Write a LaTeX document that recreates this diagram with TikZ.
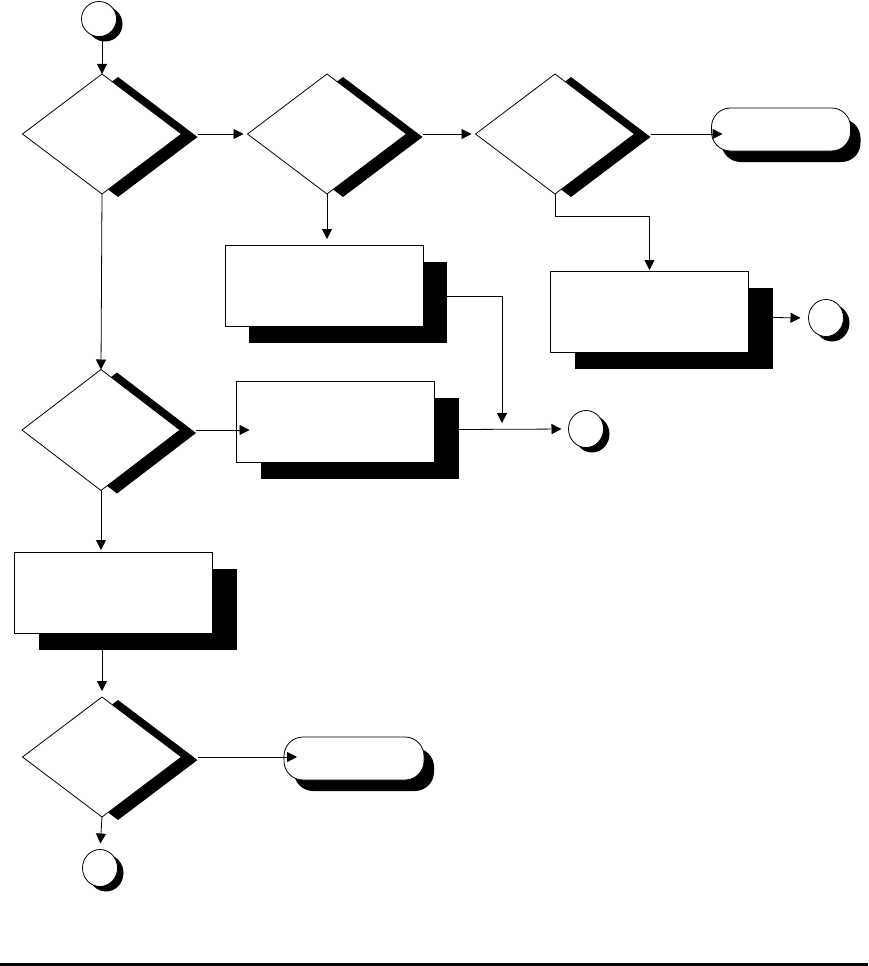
\documentclass[tikz,border=0pt]{standalone}
\usetikzlibrary{shapes.geometric,shadows,arrows.meta}
\begin{document}
\begin{tikzpicture}[x=1pt, y=-1pt, line width=0.8pt, >={Triangle[length=10pt,width=10pt]}]
  \tikzstyle{every node}=[draw, fill=white, inner sep=0pt, outer sep=0pt]
  \tikzstyle{test}=[diamond, minimum width=159pt, minimum height=120pt,
                    drop shadow={shadow xshift=16pt, shadow yshift=-3pt, opacity=1, fill=black}]
  \tikzstyle{task}=[rectangle, minimum width=198pt, minimum height=81pt,
                    drop shadow={shadow xshift=24pt, shadow yshift=-17pt, opacity=1, fill=black}]
  \tikzstyle{term}=[rectangle, rounded corners=19pt, minimum width=139pt, minimum height=43pt,
                    drop shadow={shadow xshift=10pt, shadow yshift=-11pt, opacity=1, fill=black}]
  \tikzstyle{conn}=[ellipse, minimum width=35pt, minimum height=37pt,
                    drop shadow={shadow xshift=6pt, shadow yshift=-5pt, opacity=1, fill=black}]
  \useasboundingbox (0,0) rectangle (868,966);
% \tikzstyle{every node}=[circle,draw]
  \node[conn, minimum height=35pt] (start) at (99,19) {};
  \node[test] (q1) at (102,134) {};
  \node[test] (q2) at (327,134) {};
  \node[test] (q3) at (555,134) {};
  \node[term] (stop1) at (781,129.5) {};
  \node[task] (job2) at (324,285.5) {};
  \node[task] (job3) at (649.5,311.5) {};
  \node[conn] (out3) at (826,318) {};
  \node[test, minimum width=158pt, minimum height=121pt] (q4) at (101,430) {};
  \node[task] (job4) at (335.5,421.5) {};
  \node[conn] (out4) at (586,429) {};
  \node[task] (job5) at (113.5,592.5) {};
  \node[test] (q5) at (102,757) {};
  \node[term, minimum width=140pt] (stop2) at (354,758.5) {};
  \node[conn] (out5) at (100,868) {};
  \coordinate (join) at (502,429);

  \draw[->] (start.south -| q1.north) -- (q1.north);
  \draw[->] (q1.south) -- (q4.north);
  \draw[->, shorten >=4pt] ([xshift=16pt]q1.east) -- (q2.west);
  \draw[->, shorten >=4pt] ([xshift=16pt]q2.east) -- (q3.west);
  \draw[->, shorten >=5pt] ([xshift=16pt]q3.east) -- ([xshift=16pt]q3.east -| stop1.west);
  \draw[->, shorten >=6pt] (q2.south) -- (q2.south |- job2.north);
  \draw[->, shorten >=1pt] (q3.south) -- ++(0,22) -| (job3.north);
  \draw[->, shorten >=8pt] ([xshift=24pt,yshift=-6pt]job3.east) -- (out3.west);
  \draw[->, shorten >=6pt] ([xshift=24pt,yshift=-11pt]job2.east) -| (join);
  \draw[->, shorten >=3pt] ([xshift=16pt]q4.east) -- ([xshift=16pt]q4.east -| job4.west);
  \draw[->, shorten >=7pt] ([xshift=24pt,yshift=-8pt]job4.east) -- (out4.west);
  \draw[->, shorten >=2pt] (q4.south) -- (q4.south |- job5.north);
  \draw[->, shorten >=6pt] ([yshift=-17pt]job5.south -| q5.north) -- (q5.north);
  \draw[->, shorten >=3pt] ([xshift=16pt]q5.east) -- ([xshift=16pt]q5.east -| stop2.west);
  \draw[->, shorten >=6pt] (q5.south) -- (out5.north);

  \draw[line width=2.5pt] (0,964.5) -- (868,964.5);
\end{tikzpicture}
\end{document}
